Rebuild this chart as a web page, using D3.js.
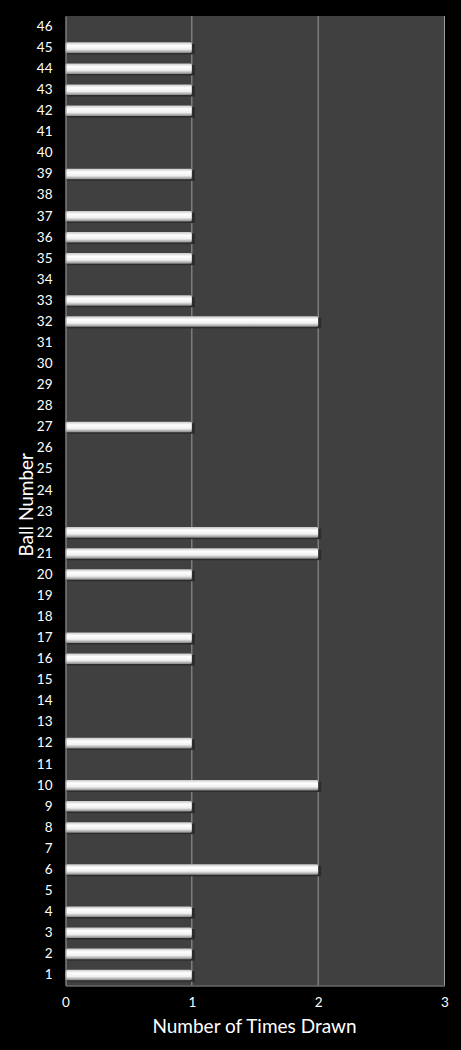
<!DOCTYPE html>
<html>
<head>
<meta charset="utf-8">
<script src="https://cdn.jsdelivr.net/npm/d3@7"></script>
<style>
  body { margin: 0; background: #000; }
  svg { display: block; }
</style>
</head>
<body>
<div id="chart"></div>
<script>
var balls = d3.range(1, 47).map(String);
var timesDrawn = [1, 1, 1, 1, 0, 2, 0, 1, 1, 2, 0, 1, 0, 0, 0, 1, 1, 0, 0, 1, 2, 2, 0, 0, 0, 0, 1, 0, 0, 0,
                  0, 2, 1, 0, 1, 1, 1, 0, 1, 0, 0, 1, 1, 1, 1, 0];
var xTicks = [0, 1, 2, 3];

var width = 461;
var height = 1050;
var margin = { top: 16, right: 16.5, bottom: 64.5, left: 65.5 };
var font = "Lato, 'Open Sans', sans-serif";

var svg = d3.select("#chart").append("svg")
    .attr("width", width).attr("height", height)
    .style("background", "#000");

var defs = svg.append("defs");
var grad = defs.append("linearGradient")
    .attr("id", "barGrad").attr("x1", 0).attr("y1", 0).attr("x2", 0).attr("y2", 1);
grad.append("stop").attr("offset", "0%").attr("stop-color", "#c8c8c8");
grad.append("stop").attr("offset", "30%").attr("stop-color", "#ffffff");
grad.append("stop").attr("offset", "65%").attr("stop-color", "#f0f0f0");
grad.append("stop").attr("offset", "100%").attr("stop-color", "#888888");

var x = d3.scaleLinear()
    .domain([0, 3])
    .range([margin.left, width - margin.right]);

var y = d3.scaleBand()
    .domain(balls.slice().reverse())
    .range([margin.top, height - margin.bottom])
    .paddingInner(0.5)
    .paddingOuter(0.25);

// plot area
svg.append("rect")
    .attr("x", x(0)).attr("y", margin.top)
    .attr("width", x(3) - x(0)).attr("height", height - margin.bottom - margin.top)
    .attr("fill", "#404040");

// gridlines
svg.append("g")
    .selectAll("line").data(xTicks.slice(1)).enter().append("line")
    .attr("x1", d => x(d)).attr("x2", d => x(d))
    .attr("y1", margin.top).attr("y2", height - margin.bottom)
    .attr("stroke", "#9a9a9a").attr("stroke-width", 1);

var data = balls.map((b, i) => ({ name: b, value: timesDrawn[i] }));

// bar shadows
svg.append("g")
    .attr("fill", "#2c2c2c")
    .selectAll("rect").data(data.filter(d => d.value > 0)).enter().append("rect")
    .attr("x", x(0))
    .attr("y", d => y(d.name) + 1.5)
    .attr("width", d => x(d.value) - x(0) + 3)
    .attr("height", y.bandwidth());

svg.append("g")
    .selectAll("rect").data(data.filter(d => d.value > 0)).enter().append("rect")
    .attr("x", x(0))
    .attr("y", d => y(d.name))
    .attr("width", d => x(d.value) - x(0))
    .attr("height", y.bandwidth())
    .attr("rx", 1.5)
    .attr("fill", "url(#barGrad)");

// x axis
var xAxis = svg.append("g")
    .attr("transform", `translate(0,${height - margin.bottom})`)
    .call(d3.axisBottom(x).tickValues(xTicks).tickFormat(d3.format("d")).tickSize(0).tickPadding(12));
xAxis.select(".domain").attr("stroke", "#9a9a9a");
xAxis.selectAll("text").attr("fill", "#fff").style("font-family", font).style("font-size", "13.5px");

// y axis
var yAxis = svg.append("g")
    .attr("transform", `translate(${margin.left},0)`)
    .call(d3.axisLeft(y).tickSize(0).tickPadding(13));
yAxis.select(".domain").attr("stroke", "#9a9a9a");
yAxis.selectAll("text").attr("fill", "#fff").style("font-family", font).style("font-size", "13.5px");

// axis titles
svg.append("text")
    .attr("x", (x(0) + x(3)) / 2 - 0.5).attr("y", 1033)
    .attr("text-anchor", "middle")
    .attr("fill", "#fff")
    .style("font-family", font).style("font-size", "19px")
    .text("Number of Times Drawn");

svg.append("text")
    .attr("transform", `translate(33,${(margin.top + height - margin.bottom) / 2 + 4}) rotate(-90)`)
    .attr("text-anchor", "middle")
    .attr("fill", "#fff")
    .style("font-family", font).style("font-size", "19px")
    .text("Ball Number");
</script>
</body>
</html>
